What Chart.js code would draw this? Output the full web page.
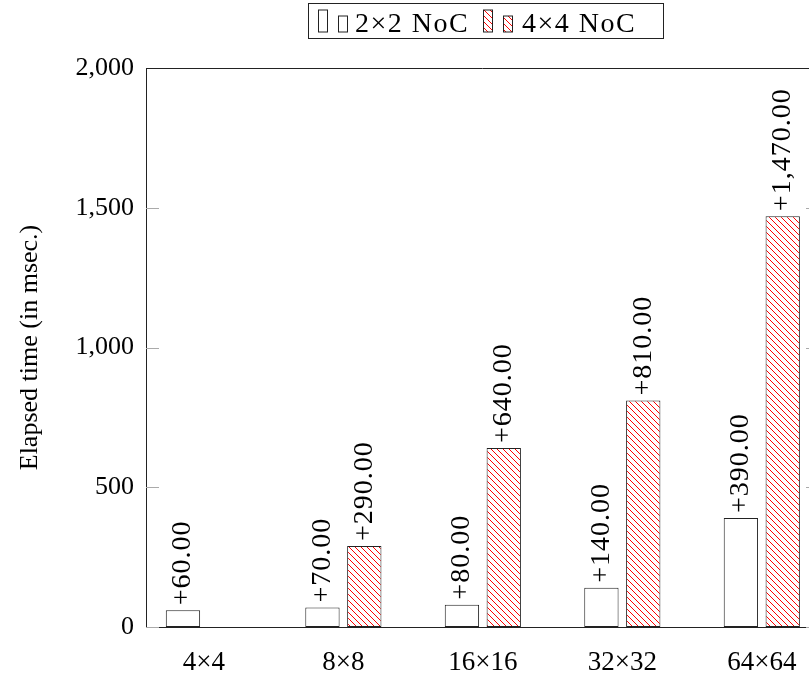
<!DOCTYPE html>
<html>
<head>
<meta charset="utf-8">
<script src="https://cdn.jsdelivr.net/npm/chart.js@4/dist/chart.umd.min.js"></script>
<style>
  html, body { margin: 0; padding: 0; background: #fff; overflow: hidden; }
  canvas { display: block; }
</style>
</head>
<body>
<canvas id="c" width="830" height="677"></canvas>
<script>
// ---- data ----
const categories = ['4×4', '8×8', '16×16', '32×32', '64×64'];
const seriesLabels = ['2×2 NoC', '4×4 NoC'];
const noc2x2 = [60, 70, 80, 140, 390];
const noc4x4 = [null, 290, 640, 810, 1470];
const yTickValues = [0, 500, 1000, 1500, 2000];
const yTitle = 'Elapsed time (in msec.)';

const FONT = '"Liberation Serif", "Times New Roman", serif';
const FSIZE = 26;

// hatch pattern (north west lines, red)
function makeHatch() {
  const s = 6;
  const t = document.createElement('canvas');
  t.width = s; t.height = s;
  const g = t.getContext('2d');
  g.fillStyle = '#fff';
  g.fillRect(0, 0, s, s);
  g.strokeStyle = '#ff0000';
  g.lineWidth = 1;
  g.beginPath();
  for (const o of [-s, 0, s]) {
    g.moveTo(o - 1, -1);
    g.lineTo(o + s + 1, s + 1);
  }
  g.stroke();
  return document.getElementById('c').getContext('2d').createPattern(t, 'repeat');
}
const hatch = makeHatch();

function fmt(v) {
  return '+' + v.toLocaleString('en-US', { minimumFractionDigits: 2, maximumFractionDigits: 2 });
}

const toPoints = arr => arr.map((v, i) => ({ x: i, y: v }));

// frame (top/right) + inward y ticks
const framePlugin = {
  id: 'frame',
  afterDraw(chart) {
    const { ctx, chartArea: a, scales: { y } } = chart;
    ctx.save();
    ctx.strokeStyle = '#aaaaaa';
    ctx.lineWidth = 1;
    ctx.beginPath();
    for (const v of yTickValues) {
      const py = Math.round(y.getPixelForValue(v)) + 0.5;
      ctx.moveTo(a.left, py); ctx.lineTo(a.left + 13, py);
      ctx.moveTo(a.right - 13, py); ctx.lineTo(a.right, py);
    }
    ctx.stroke();
    ctx.strokeStyle = '#222';
    ctx.beginPath();
    const top = Math.round(a.top) + 0.5;
    ctx.moveTo(a.left, top); ctx.lineTo(a.right, top);
    ctx.moveTo(Math.round(a.right) + 0.5, a.top); ctx.lineTo(Math.round(a.right) + 0.5, a.bottom);
    ctx.stroke();
    ctx.restore();
  }
};

// rotated value labels above bars
const labelPlugin = {
  id: 'valueLabels',
  afterDatasetsDraw(chart) {
    const { ctx } = chart;
    ctx.save();
    ctx.fillStyle = '#000';
    ctx.font = '28px ' + FONT;
    ctx.letterSpacing = '1px';
    ctx.textAlign = 'left';
    ctx.textBaseline = 'middle';
    chart.data.datasets.forEach((ds, di) => {
      const meta = chart.getDatasetMeta(di);
      meta.data.forEach((bar, i) => {
        const v = ds.data[i].y;
        if (v === null || v === undefined) return;
        ctx.save();
        ctx.translate(bar.x, bar.y - 5);
        ctx.rotate(-Math.PI / 2);
        ctx.fillText(fmt(v), 0, 0);
        ctx.restore();
      });
    });
    ctx.letterSpacing = '0px';
    ctx.restore();
  }
};

// legend box
const legendPlugin = {
  id: 'boxLegend',
  afterDraw(chart) {
    const { ctx } = chart;
    ctx.save();
    const boxL = 308.5, boxT = 3.5, boxW = 355, boxH = 35;
    ctx.fillStyle = '#fff';
    ctx.fillRect(boxL, boxT, boxW, boxH);
    ctx.strokeStyle = '#222';
    ctx.lineWidth = 1;
    ctx.strokeRect(boxL, boxT, boxW, boxH);
    const iconX = [318.5, 483.5];
    const textX = [355, 522];
    const base = 32;
    ctx.font = '28px ' + FONT;
    ctx.letterSpacing = '1.5px';
    chart.data.datasets.forEach((ds, k) => {
      const x = iconX[k];
      ctx.fillStyle = ds.backgroundColor;
      ctx.fillRect(x, base - 22, 9, 22);
      ctx.strokeRect(x, base - 22, 9, 22);
      ctx.fillRect(x + 20, base - 16, 9, 16);
      ctx.strokeRect(x + 20, base - 16, 9, 16);
      ctx.fillStyle = '#000';
      ctx.textAlign = 'left';
      ctx.textBaseline = 'alphabetic';
      ctx.fillText(ds.label, textX[k], base);
    });
    ctx.letterSpacing = '0px';
    ctx.restore();
  }
};

Chart.defaults.font.family = FONT;
Chart.defaults.color = '#000';

new Chart(document.getElementById('c'), {
  type: 'bar',
  data: {
    datasets: [
      {
        label: seriesLabels[0],
        data: toPoints(noc2x2),
        backgroundColor: '#ffffff',
        borderColor: '#222',
        borderWidth: 1,
        borderSkipped: false
      },
      {
        label: seriesLabels[1],
        data: toPoints(noc4x4),
        backgroundColor: hatch,
        borderColor: '#222',
        borderWidth: 1,
        borderSkipped: false
      }
    ]
  },
  options: {
    responsive: false,
    animation: false,
    devicePixelRatio: 1,
    categoryPercentage: 0.6,
    barPercentage: 0.82,
    layout: { padding: { left: 0, top: 68, right: 11, bottom: 0 } },
    plugins: {
      legend: { display: false },
      tooltip: { enabled: false }
    },
    scales: {
      x: {
        type: 'linear',
        offset: false,
        min: -0.415,
        max: 4.41,
        grid: { display: false, drawTicks: false, offset: false },
        border: { display: true, color: '#222', width: 1 },
        afterBuildTicks: s => { s.ticks = categories.map((_, i) => ({ value: i })); },
        ticks: {
          autoSkip: false,
          maxRotation: 0,
          padding: 20,
          font: { size: 27 },
          callback: v => categories[v]
        },
        afterFit: s => { s.height = 50; }
      },
      y: {
        min: 0,
        max: 2000,
        grid: { display: false, drawTicks: false },
        border: { display: true, color: '#222', width: 1 },
        afterBuildTicks: s => { s.ticks = yTickValues.map(v => ({ value: v })); },
        ticks: {
          padding: 12,
          font: { size: FSIZE },
          callback: v => v.toLocaleString('en-US')
        },
        title: {
          display: true,
          text: yTitle,
          font: { size: FSIZE },
          padding: { top: 15, bottom: 0 }
        },
        afterFit: s => { s.width = 146; }
      }
    }
  },
  plugins: [framePlugin, labelPlugin, legendPlugin]
});
</script>
</body>
</html>
